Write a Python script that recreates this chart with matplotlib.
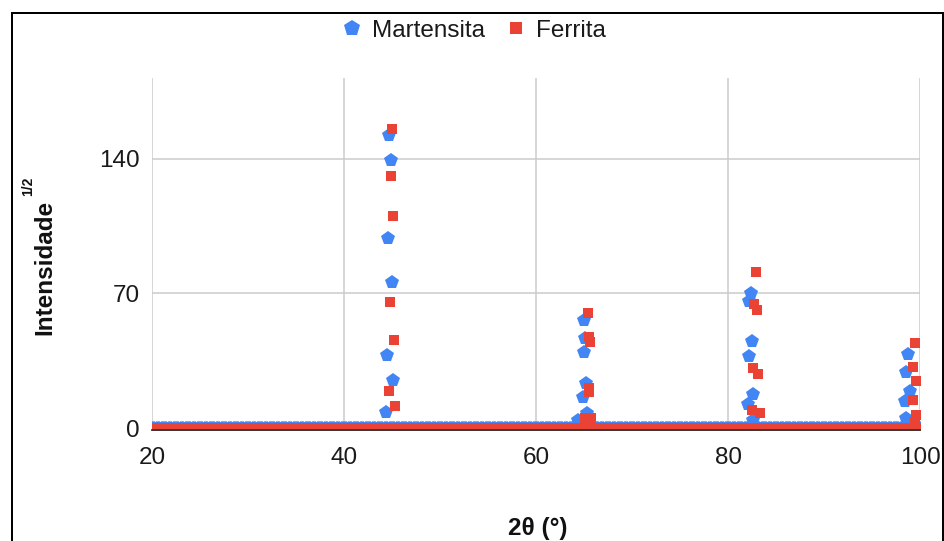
import numpy as np
import matplotlib
matplotlib.use("Agg")
import matplotlib.pyplot as plt
from matplotlib.lines import Line2D

plt.rcParams['font.family'] = ['Liberation Sans', 'DejaVu Sans']

# 2θ scan: flat background level between the diffraction peaks
scan_start, scan_stop, scan_step = 20.0, 100.0, 0.25
background_level = 0.0

# Martensita peak points (2θ, sqrt intensity)
mart_peak_2theta = [44.40, 44.48, 44.58, 44.69, 44.90, 45.00, 45.10,
                    64.40, 64.90, 65.00, 65.00, 65.10, 65.20, 65.30,
                    82.10, 82.20, 82.20, 82.40, 82.50, 82.60, 82.60,
                    98.44, 98.54, 98.54, 98.75, 98.96]
mart_peak_int = [8.3, 38.0, 98.9, 152.5, 139.5, 76.0, 25.0,
                 4.2, 16.1, 56.2, 39.6, 46.9, 23.4, 7.8,
                 12.5, 66.1, 37.5, 70.3, 45.3, 17.7, 4.2,
                 14.1, 29.2, 5.2, 38.5, 19.3]

# Ferrita peak points (2θ, sqrt intensity)
ferr_peak_2theta = [44.70, 44.80, 44.90, 45.00, 45.10, 45.20, 45.30,
                    65.10, 65.40, 65.50, 65.55, 65.60, 65.55, 65.70,
                    82.50, 82.60, 82.70, 82.90, 83.00, 83.10, 83.30,
                    99.27, 99.27, 99.48, 99.58, 99.60, 99.50]
ferr_peak_int = [19.3, 65.6, 131.2, 155.6, 110.4, 45.8, 11.5,
                 5.2, 59.9, 20.8, 47.5, 44.5, 18.5, 5.2,
                 9.4, 31.2, 64.5, 81.2, 61.4, 28.1, 7.8,
                 14.6, 31.8, 44.2, 24.5, 6.8, 3.0]

series_names = ["Martensita", "Ferrita"]
series_colors = ["#4285F4", "#EA4335"]
x_ticks = [20, 40, 60, 80, 100]
y_ticks = [0, 70, 140]

scan = np.arange(scan_start, scan_stop + scan_step / 2, scan_step)
base = np.full_like(scan, background_level)

W, H = 944, 541
fig = plt.figure(figsize=(W / 100, H / 100), dpi=100)
ax = fig.add_axes([152 / W, 1 - 430 / H, (920 - 152) / W, (430 - 78) / H])

mart_x = np.concatenate([scan, mart_peak_2theta])
mart_y = np.concatenate([base, mart_peak_int])
ferr_x = np.concatenate([scan, ferr_peak_2theta])
ferr_y = np.concatenate([base, ferr_peak_int])

ax.plot(mart_x, mart_y, ls='none', marker='p', ms=10.5, mew=0,
        color=series_colors[0], zorder=3)
ax.plot(ferr_x, ferr_y, ls='none', marker='s', ms=7.2, mew=0,
        color=series_colors[1], zorder=4)

ax.set_xlim(20, 100)
ax.set_ylim(-1, 182)
ax.set_xticks(x_ticks)
ax.set_yticks(y_ticks)
ax.grid(True, color='#cccccc', lw=1.1, zorder=0)
ax.set_axisbelow(True)
ax.tick_params(length=0, labelsize=17.5, colors='#1a1a1a', pad=9)
ax.tick_params(axis='x', pad=12)
for s in ['top', 'right', 'left']:
    ax.spines[s].set_visible(False)
ax.spines['bottom'].set_color('#333333')
ax.spines['bottom'].set_linewidth(1.3)
ax.spines['bottom'].set_zorder(5)

# axis titles
fig.text(45 / W, 1 - 267 / H, "Intensidade", rotation=90, ha='center',
         va='center', fontsize=17.5, fontweight='bold', color='#111111')
fig.text(28 / W, 1 - 186 / H, "1/2", rotation=90, ha='center',
         va='center', fontsize=10, fontweight='bold', color='#111111')
fig.text(538 / W, 1 - 528 / H, "2θ (°)", ha='center', va='center',
         fontsize=17.5, fontweight='bold', color='#111111')

# legend
handles = [Line2D([], [], ls='none', marker='p', ms=12, mew=0, color=series_colors[0]),
           Line2D([], [], ls='none', marker='s', ms=8, mew=0, color=series_colors[1])]
fig.legend(handles, series_names, loc='center', bbox_to_anchor=(474 / W, 1 - 31 / H),
           ncol=2, frameon=False, fontsize=17.5, handlelength=0.8,
           handletextpad=0.4, columnspacing=0.9, labelcolor='#1a1a1a')

# outer frame
lw = 2.0 * 72 / 100
fig.add_artist(Line2D([12 / W, 12 / W], [0, 1 - 12.5 / H], color='black', lw=lw))
fig.add_artist(Line2D([12 / W, 942.5 / W], [1 - 12.5 / H, 1 - 12.5 / H], color='black', lw=lw))
fig.add_artist(Line2D([942.5 / W, 942.5 / W], [0, 1 - 12.5 / H], color='black', lw=lw))

fig.savefig("out.png", dpi=100)
